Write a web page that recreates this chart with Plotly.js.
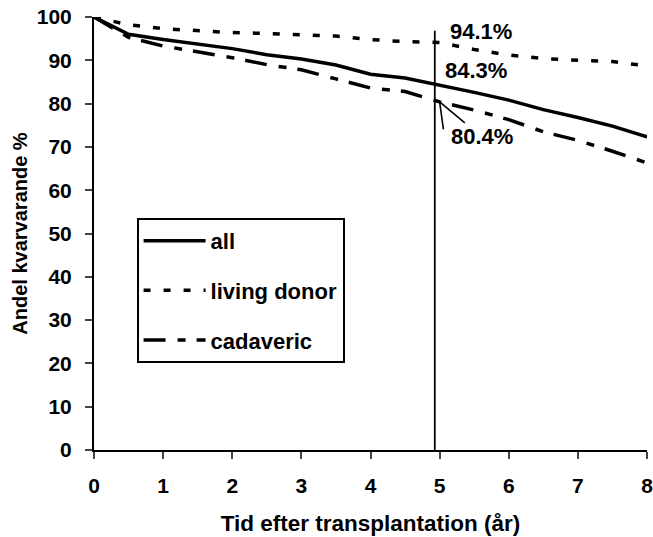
<!DOCTYPE html>
<html><head><meta charset="utf-8">
<script src="https://cdn.plot.ly/plotly-3.0.1.min.js"></script>
<style>body{margin:0;background:#fff}#chart{width:653px;height:537px}</style>
</head><body><div id="chart"></div>
<script>
const years = [0,0.5,1,1.5,2,2.5,3,3.5,4,4.5,5,5.5,6,6.5,7,7.5,8];
const allSurv = [100,96.0,94.8,93.7,92.7,91.3,90.3,88.9,86.8,85.9,84.3,82.6,80.8,78.6,76.8,74.8,72.3];
const livingSurv = [100,98.2,97.3,96.8,96.4,96.2,96.0,95.6,94.8,94.3,94.1,92.5,91.2,90.4,90.0,89.7,88.7];
const cadavericSurv = [100,95.3,93.3,92.0,90.6,89.0,87.8,85.7,83.6,82.8,80.4,78.5,76.3,73.5,71.5,69.0,66.3];
const seriesNames = ["all","living donor","cadaveric"];
const markYear = 4.93;
const markTop = 96.8;
const markLabels = ["94.1%","84.3%","80.4%"];
const xTicks = [0,1,2,3,4,5,6,7,8];
const yTicks = [0,10,20,30,40,50,60,70,80,90,100];

const F = "Liberation Sans, Arial, sans-serif";
const traces = [
  {x: years, y: allSurv, name: seriesNames[0], mode: "lines", legendgroup: "a",
   line: {color: "#000", width: 3.5, dash: "solid"}},
  {x: years, y: livingSurv, name: seriesNames[1], mode: "lines", legendgroup: "b",
   line: {color: "#000", width: 3.5, dash: "7px,13px"}},
  {x: years, y: cadavericSurv, name: seriesNames[2], mode: "lines", legendgroup: "c",
   line: {color: "#000", width: 3.5, dash: "22px,12px,8px,11px"}},
  {x: [markYear, markYear], y: [0, markTop], mode: "lines", showlegend: false, hoverinfo: "skip",
   line: {color: "#000", width: 1.8}}
];
const layout = {
  width: 653, height: 537,
  margin: {l: 94, r: 6, t: 17, b: 87},
  paper_bgcolor: "#fff", plot_bgcolor: "#fff",
  font: {family: F, color: "#000", size: 22, weight: "bold"},
  showlegend: true,
  legend: {x: 0.077, y: 0.536, xanchor: "left", yanchor: "top",
    bgcolor: "#fff", bordercolor: "#000", borderwidth: 2,
    font: {family: F, size: 22, weight: "bold", color: "#000"},
    tracegroupgap: 18, itemwidth: 62},
  xaxis: {range: [0, 8], tickvals: xTicks, ticks: "outside", ticklen: 7, tickwidth: 2,
    showline: true, linewidth: 2, linecolor: "#000", showgrid: false, zeroline: false,
    ticklabelstandoff: 9, ticklabeloverflow: "allow",
    tickfont: {family: F, size: 21, weight: "bold"},
    title: {text: "Tid efter transplantation (år)", font: {family: F, size: 22.5, weight: "bold"}, standoff: 19}},
  yaxis: {range: [0, 100], tickvals: yTicks, ticks: "outside", ticklen: 7, tickwidth: 2,
    showline: true, linewidth: 2, linecolor: "#000", showgrid: false, zeroline: false,
    ticklabelstandoff: 9, ticklabeloverflow: "allow",
    tickfont: {family: F, size: 21, weight: "bold"},
    title: {text: "Andel kvarvarande %", font: {family: F, size: 20, weight: "bold"}, standoff: 4}},
  annotations: [
    {x: markYear, y: livingSurv[10], text: markLabels[0], showarrow: false, xanchor: "left", yanchor: "middle",
     xshift: 13, yshift: 11, font: {family: F, size: 22, weight: "bold"}},
    {x: markYear, y: allSurv[10], text: markLabels[1], showarrow: false, xanchor: "left", yanchor: "middle",
     xshift: 8, yshift: 14, font: {family: F, size: 22, weight: "bold"}},
    {x: years[10], y: cadavericSurv[10], text: markLabels[2], showarrow: true, arrowhead: 0, arrowwidth: 1.6,
     arrowcolor: "#000", ax: 42, ay: 35, standoff: 0, font: {family: F, size: 22, weight: "bold"}},
    {x: years[10], y: cadavericSurv[10], text: "", showarrow: true, arrowhead: 0, arrowwidth: 1.6,
     arrowcolor: "#000", ax: 4, ay: 29, standoff: 0}
  ]
};
Plotly.newPlot("chart", traces, layout, {displayModeBar: false, staticPlot: true});
</script></body></html>
